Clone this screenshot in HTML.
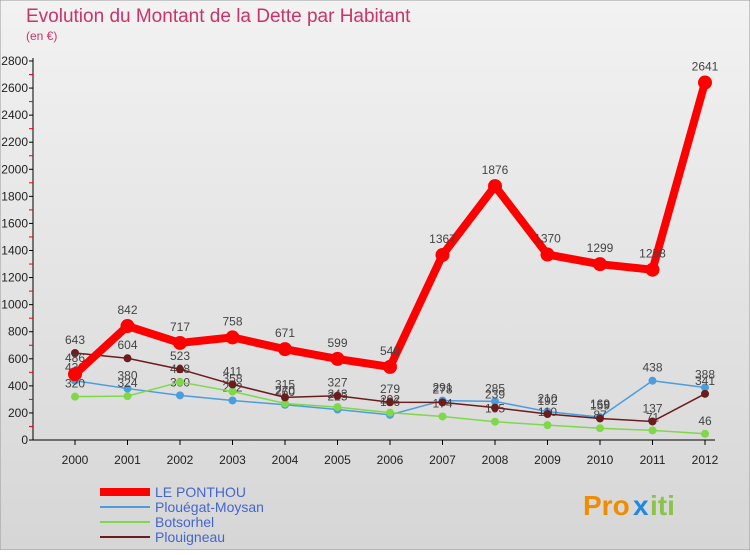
<!DOCTYPE html>
<html><head><meta charset="utf-8"><style>
body{margin:0;width:750px;height:550px;overflow:hidden;font-family:"Liberation Sans",sans-serif}
svg text{font-family:"Liberation Sans",sans-serif}
</style></head><body>
<svg id="c" width="750" height="550">
<defs>
<linearGradient id="bg" x1="0" y1="0" x2="0" y2="1"><stop offset="0" stop-color="#f2f2f2"/><stop offset="1" stop-color="#d6d6d6"/></linearGradient>
</defs>
<rect x="0" y="0" width="750" height="550" fill="url(#bg)" stroke="#999"/>
<text x="26" y="22" font-size="19" fill="#cc3366">Evolution du Montant de la Dette par Habitant</text>
<text x="26" y="40" font-size="12" fill="#cc3366">(en €)</text>
<g id="axes"></g><g id="series"></g><g id="legend"></g>
<g font-size="28" font-weight="bold">
<text x="583" y="515" fill="#f08c00">Pro</text><text x="633" y="515" fill="#1e88e5">x</text><text x="650" y="515" fill="#8bc34a">iti</text>
</g>
</svg>
<script>
const years=["2000","2001","2002","2003","2004","2005","2006","2007","2008","2009","2010","2011","2012"];
const yTicks=[0,200,400,600,800,1000,1200,1400,1600,1800,2000,2200,2400,2600,2800];
const ponthou=[486,842,717,758,671,599,540,1367,1876,1370,1299,1258,2641];
const plouegat=[438,380,330,292,260,225,186,291,285,210,169,438,388];
const botsorhel=[320,324,428,358,270,243,202,174,135,110,87,71,46];
const plouigneau=[643,604,523,411,315,327,279,278,239,192,159,137,341];
const NS="http://www.w3.org/2000/svg";
const X=i=>75+i*52.5, Y=v=>440-v*379/2800;
function mk(t,a,p){const e=document.createElementNS(NS,t);for(const k in a)e.setAttribute(k,a[k]);p.appendChild(e);return e;}
const ax=document.getElementById('axes');
const yl=mk('line',{x1:33,y1:58,x2:33,y2:440,stroke:'#000'},ax);


const xl=mk('line',{x1:33,y1:440,x2:715,y2:440,stroke:'#000'},ax);


yTicks.forEach(v=>{
 mk('line',{x1:29,y1:Y(v),x2:33,y2:Y(v),stroke:'#000'},ax);
 if(v<2800)mk('line',{x1:29,y1:Y(v+100),x2:33,y2:Y(v+100),stroke:'#e00'},ax);
 const t=mk('text',{x:28,y:Y(v)+4,'text-anchor':'end','font-size':12,fill:'#222'},ax);t.textContent=v;
 
 
});
years.forEach((y,i)=>{
 mk('line',{x1:X(i),y1:440,x2:X(i),y2:445,stroke:'#000'},ax);
 const t=mk('text',{x:X(i),y:464,'text-anchor':'middle','font-size':12,fill:'#222'},ax);t.textContent=y;
 
 
});
const sg=document.getElementById('series');
function series(d,col,w,r,name){
 const g=mk('g',{},sg);
 
 
 mk('polyline',{points:d.map((v,i)=>X(i)+','+Y(v)).join(' '),fill:'none',stroke:col,'stroke-width':w,'stroke-linejoin':'round'},g);
 d.forEach((v,i)=>{
  const c=mk('circle',{cx:X(i),cy:Y(v),r:r,fill:col},g);
  
  
  const t=mk('text',{x:X(i),y:Y(v)-r-5,'text-anchor':'middle','font-size':12,fill:'#444'},g);t.textContent=v;
 });
}
series(plouegat,'#4a9ee0',1.5,4,'plouegat-moysan-series');
series(botsorhel,'#7fd84a',1.5,4,'botsorhel-series');
series(plouigneau,'#6b1c1c',1.5,4,'plouigneau-series');
series(ponthou,'#ff0000',8,7,'le-ponthou-series');
const lg=document.getElementById('legend');
[['LE PONTHOU','#ff0000',8],['Plouégat-Moysan','#4a9ee0',2],['Botsorhel','#7fd84a',2],['Plouigneau','#6b1c1c',2]].forEach((e,i)=>{
 const y=492+i*15;
 const g=mk('g',{},lg);
 
 
 mk('line',{x1:100,y1:y,x2:150,y2:y,stroke:e[1],'stroke-width':e[2]},g);
 const t=mk('text',{x:155,y:y+5,'font-size':14,fill:'#4466cc'},g);t.textContent=e[0];
});
</script>
</body></html>
